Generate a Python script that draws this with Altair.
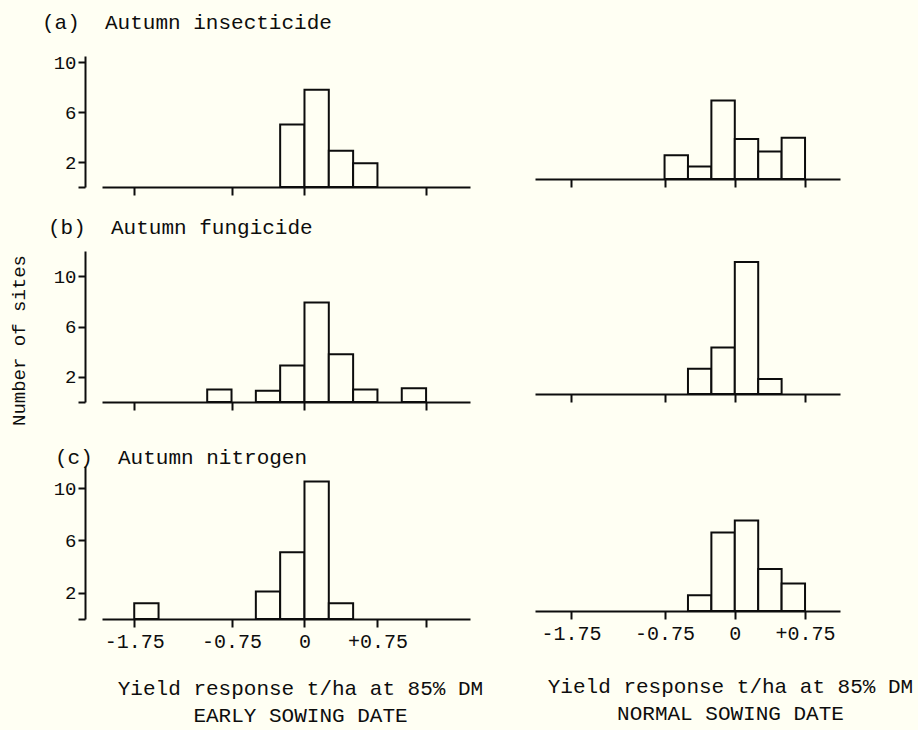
import altair as alt
import pandas as pd

BG = "#fffff3"
INK = "#0d0d0d"
FONT = "Liberation Mono"
WEIGHT = "normal"

BIN_WIDTH = 0.25

# Yield response bins (lower edge, t/ha) and number of sites in each bin
a_early_lo = [-0.25, 0.0, 0.25, 0.5]
a_early_n = [5.0, 7.8, 2.9, 1.9]
a_normal_lo = [-0.75, -0.5, -0.25, 0.0, 0.25, 0.5]
a_normal_n = [1.9, 1.0, 6.3, 3.2, 2.2, 3.3]

b_early_lo = [-1.0, -0.5, -0.25, 0.0, 0.25, 0.5, 1.0]
b_early_n = [1.0, 0.9, 2.9, 7.9, 3.8, 1.0, 1.1]
b_normal_lo = [-0.5, -0.25, 0.0, 0.25]
b_normal_n = [2.0, 3.7, 10.5, 1.2]

c_early_lo = [-1.75, -0.5, -0.25, 0.0, 0.25]
c_early_n = [1.2, 2.1, 5.1, 10.5, 1.2]
c_normal_lo = [-0.5, -0.25, 0.0, 0.25, 0.5]
c_normal_n = [1.2, 6.0, 6.9, 3.2, 2.1]

panel_titles = ["(a)  Autumn insecticide", "(b)  Autumn fungicide", "(c)  Autumn nitrogen"]
y_title = "Number of sites"
x_title = "Yield response t/ha at 85% DM"
date_labels = ["EARLY SOWING DATE", "NORMAL SOWING DATE"]

y_tick_values = [0, 2, 6, 10]
x_tick_values = [-1.75, -0.75, 0, 0.75]
x_tick_labels = ["-1.75", "-0.75", "0", "+0.75"]
early_extra_tick = 1.25

# ---- layout (pixels) ----
LEFT_W, RIGHT_W = 368, 305
LEFT_DOMAIN = [-2.03, 1.65]
RIGHT_DOMAIN = [-2.08, 1.07]
ROW_H = [131, 151, 153]
ROW_YMAX = [10.5, 12.0, 11.68]
RIGHT_DROP = 8
TITLE_DX = [-60, -54, -47]
TITLE_OFFSET = [20, 13, 4]
TITLE_DY = [0, 0, 6]

NB = "\u00a0"


def label_expr():
    parts = [f"datum.value == {v} ? '{t}'" for v, t in zip(x_tick_values, x_tick_labels)]
    return " : ".join(parts) + " : ''"


def panel(lo, n, row, early):
    df = pd.DataFrame({"lo": lo, "hi": [v + BIN_WIDTH for v in lo], "n": n,
                       "base": [0.0] * len(lo)})
    H = ROW_H[row] if early else ROW_H[row] - RIGHT_DROP
    ymax = ROW_YMAX[row] * H / ROW_H[row]
    bottom = row == 2
    if early:
        ticks = [-1.75, -0.75, 0, early_extra_tick] if not bottom else x_tick_values + [early_extra_tick]
    else:
        ticks = list(x_tick_values)

    xa = dict(values=ticks, tickSize=8, tickWidth=2, tickColor=INK,
              domainWidth=2, domainColor=INK, grid=False)
    if bottom:
        second = date_labels[0] + NB + NB if early else date_labels[1]
        xa.update(labels=True, labelExpr=label_expr(), labelFont=FONT,
                  labelFontSize=20, labelFontWeight=WEIGHT, labelColor=INK, labelPadding=4,
                  title=[x_title.replace(" ", NB), second.replace(" ", NB)],
                  titleFont=FONT, titleFontSize=21, titleFontWeight=WEIGHT,
                  titleColor=INK, titleAlign="center", titleBaseline="top",
                  titleLineHeight=27,
                  titleX=(198 if early else 195), titleY=(58 if early else 64))
    else:
        xa.update(labels=False, title="")

    if early:
        ya = dict(values=y_tick_values, labelExpr="datum.value == 0 ? '' : datum.label",
                  offset=17, tickSize=7, tickWidth=2, tickColor=INK,
                  domainWidth=2, domainColor=INK, grid=False,
                  labelFont=FONT, labelFontSize=19, labelFontWeight=WEIGHT,
                  labelColor=INK, labelPadding=2)
        if row == 1:
            ya.update(title=y_title.replace(" ", NB), titleFont=FONT, titleFontSize=19,
                      titleFontWeight=WEIGHT, titleColor=INK, titleAngle=-90,
                      titleAlign="center", titleBaseline="middle",
                      titleX=-67, titleY=89)
        else:
            ya.update(title="")
        y_axis = alt.Axis(**ya)
    else:
        y_axis = None

    props = dict(width=LEFT_W if early else RIGHT_W, height=H)
    if early:
        props["title"] = alt.TitleParams(
            text=panel_titles[row].replace(" ", NB), anchor="start", frame="group",
            dx=TITLE_DX[row], dy=TITLE_DY[row], offset=TITLE_OFFSET[row],
            font=FONT, fontSize=21, fontWeight=WEIGHT, color=INK)

    return alt.Chart(df).mark_bar(
        fill=BG, stroke=INK, strokeWidth=2, strokeJoin="miter", orient="vertical"
    ).encode(
        x=alt.X("lo:Q", scale=alt.Scale(domain=LEFT_DOMAIN if early else RIGHT_DOMAIN,
                                        nice=False, zero=False), axis=alt.Axis(**xa)),
        x2="hi:Q",
        y=alt.Y("n:Q", scale=alt.Scale(domain=[0, ymax], nice=False), axis=y_axis),
        y2="base:Q",
    ).properties(**props)


panels = [
    panel(a_early_lo, a_early_n, 0, True), panel(a_normal_lo, a_normal_n, 0, False),
    panel(b_early_lo, b_early_n, 1, True), panel(b_normal_lo, b_normal_n, 1, False),
    panel(c_early_lo, c_early_n, 2, True), panel(c_normal_lo, c_normal_n, 2, False),
]

chart = alt.concat(
    *panels, columns=2, spacing={"row": 64, "column": 65}, bounds="flush"
).properties(
    background=BG,
    padding={"left": 8, "top": 12, "right": 5, "bottom": 5},
).configure(font=FONT).configure_view(stroke="transparent", strokeWidth=0)

chart.save("out.html", embed_options={"renderer": "svg", "actions": False})
